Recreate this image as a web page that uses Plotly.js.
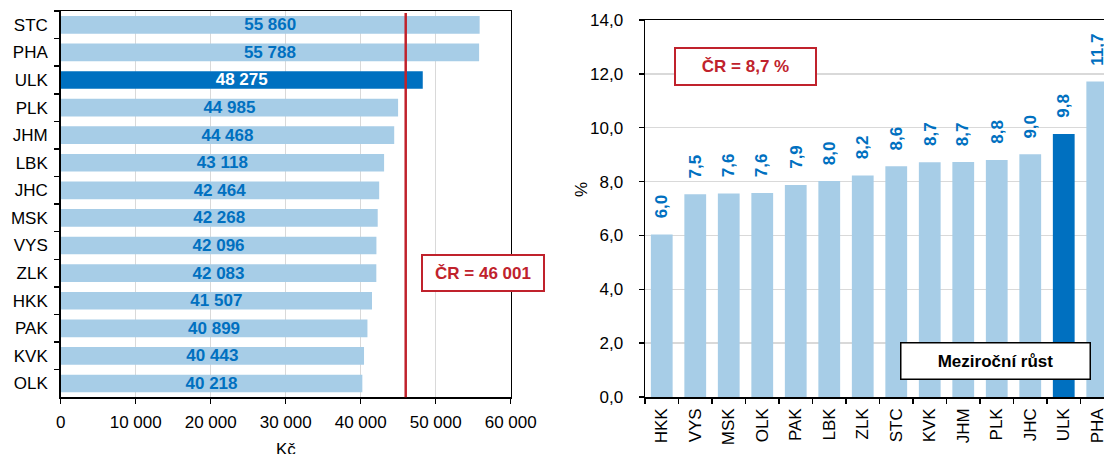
<!DOCTYPE html>
<html>
<head>
<meta charset="utf-8">
<script src="https://cdn.plot.ly/plotly-3.0.1.min.js"></script>
<style>
html,body{margin:0;padding:0;background:#fff;overflow:hidden;}
#chart{width:1104px;height:454px;}
</style>
</head>
<body>
<div id="chart"></div>
<script>
// ---- data ----
const wageRegions = ['STC','PHA','ULK','PLK','JHM','LBK','JHC','MSK','VYS','ZLK','HKK','PAK','KVK','OLK'];
const wages = [55860,55788,48275,44985,44468,43118,42464,42268,42096,42083,41507,40899,40443,40218];
const wageTicks = [0,10000,20000,30000,40000,50000,60000];
const wageAxisTitle = 'Kč';
const CR_WAGE = 46001;
const CR_WAGE_LABEL = 'ČR = 46 001';

const growthRegions = ['HKK','VYS','MSK','OLK','PAK','LBK','ZLK','STC','KVK','JHM','PLK','JHC','ULK','PHA'];
const growth = [6.03,7.53,7.56,7.58,7.87,8.02,8.23,8.57,8.72,8.73,8.80,9.01,9.77,11.72];
const growthTicks = [0,2,4,6,8,10,12,14];
const growthAxisTitle = '%';
const CR_GROWTH_LABEL = 'ČR = 8,7 %';
const growthBoxLabel = 'Meziroční růst';
const highlight = 'ULK';

// ---- styling ----
const W = 1104, H = 454;
const FONT = 'Liberation Sans, Arial, sans-serif';
const LIGHT = '#A7CDE7';
const DARK = '#0070C0';
const RED = '#C0222C';
const GRID = '#D9D9D9';
const fs = 17;
const px = x => x / W;
const py = y => (H - y) / H;
const thou = v => String(v).replace(/\B(?=(\d{3})+(?!\d))/g, ' ');
const dec1 = v => v.toFixed(1).replace('.', ',');

const wageTrace = {
  type: 'bar', orientation: 'h',
  x: wages, y: wageRegions, xaxis: 'x', yaxis: 'y',
  marker: {color: wageRegions.map(r => r === highlight ? DARK : LIGHT), line: {width: 0}},
  width: 0.64,
  text: wages.map(thou),
  textposition: 'inside', insidetextanchor: 'middle', textangle: 0,
  constraintext: 'none',
  insidetextfont: {family: FONT, size: fs, weight: 'bold', color: wageRegions.map(r => r === highlight ? '#FFFFFF' : DARK)},
  hoverinfo: 'none'
};

const growthTrace = {
  type: 'bar',
  x: growthRegions, y: growth, xaxis: 'x2', yaxis: 'y2',
  marker: {color: growthRegions.map(r => r === highlight ? DARK : LIGHT), line: {width: 0}},
  width: 0.65,
  hoverinfo: 'none'
};

const x2Left = 645, catW = 33.5;
const x2RangeEnd = -0.5 + (W - x2Left) / catW;

const annotations = [
  // value labels on growth bars
  ...growthRegions.map((r, i) => ({
    xref: 'x2', yref: 'y2', x: r, y: growth[i],
    text: dec1(growth[i]), showarrow: false, textangle: -90,
    xanchor: 'center', yanchor: 'bottom', yshift: 15, borderpad: 0,
    font: {family: FONT, size: fs, weight: 'bold', color: DARK}
  })),
  {
    xref: 'paper', yref: 'paper', x: px(483), y: py(273),
    text: '<b>' + CR_WAGE_LABEL + '</b>', showarrow: false,
    xanchor: 'center', yanchor: 'middle',
    width: 118, height: 32, borderpad: 1, borderwidth: 2,
    bordercolor: RED, bgcolor: '#FFFFFF',
    font: {family: FONT, size: fs, color: RED}
  },
  {
    xref: 'paper', yref: 'paper', x: px(745.5), y: py(66.5),
    text: '<b>' + CR_GROWTH_LABEL + '</b>', showarrow: false,
    xanchor: 'center', yanchor: 'middle',
    width: 137, height: 33, borderpad: 1, borderwidth: 2,
    bordercolor: RED, bgcolor: '#FFFFFF',
    font: {family: FONT, size: fs, color: RED}
  },
  {
    xref: 'paper', yref: 'paper', x: px(995.5), y: py(361),
    text: '<b>' + growthBoxLabel + '</b>', showarrow: false,
    xanchor: 'center', yanchor: 'middle',
    width: 186, height: 33, borderpad: 1, borderwidth: 1.5,
    bordercolor: '#000000', bgcolor: '#FFFFFF',
    font: {family: FONT, size: fs, color: '#000000'}
  },
  {
    xref: 'paper', yref: 'paper', x: px(286), y: py(449),
    text: wageAxisTitle, showarrow: false, xanchor: 'center', yanchor: 'middle',
    font: {family: FONT, size: fs, color: '#000000'}
  },
  {
    xref: 'paper', yref: 'paper', x: px(581), y: py(190),
    text: growthAxisTitle, showarrow: false, textangle: -90,
    xanchor: 'center', yanchor: 'middle',
    font: {family: FONT, size: fs, color: '#000000'}
  }
];

const layout = {
  width: W, height: H,
  margin: {l: 0, r: 0, t: 0, b: 0, pad: 0},
  paper_bgcolor: '#FFFFFF', plot_bgcolor: '#FFFFFF',
  showlegend: false,
  font: {family: FONT, size: fs, color: '#000000'},
  xaxis: {
    domain: [px(60.7), px(510.7)], range: [0, 60000], anchor: 'y',
    tickvals: wageTicks, ticktext: wageTicks.map(thou),
    showgrid: true, gridcolor: GRID, gridwidth: 1.5,
    showline: true, linecolor: '#000000', linewidth: 1.5, mirror: true,
    ticks: 'outside', ticklen: 5, tickwidth: 1.5, tickcolor: '#000000',
    ticklabelstandoff: 4, zeroline: false, fixedrange: true,
    tickfont: {family: FONT, size: fs, color: '#000000'}
  },
  yaxis: {
    domain: [py(397.3), py(11)], anchor: 'x',
    type: 'category', autorange: 'reversed',
    showgrid: false, showline: true, linecolor: '#000000', linewidth: 1.5, mirror: true,
    ticks: 'outside', ticklen: 5, tickwidth: 1.5, tickcolor: '#000000', tickson: 'boundaries',
    ticklabelstandoff: 8, zeroline: false, fixedrange: true,
    tickfont: {family: FONT, size: fs, color: '#000000'}
  },
  xaxis2: {
    domain: [px(x2Left), 1], anchor: 'y2', type: 'category',
    range: [-0.5, x2RangeEnd],
    showgrid: false, showline: true, linecolor: '#000000', linewidth: 1.5, mirror: true,
    ticks: 'outside', ticklen: 5, tickwidth: 1.5, tickcolor: '#000000', tickson: 'boundaries',
    tickangle: -90, ticklabelstandoff: 3, zeroline: false, fixedrange: true,
    tickfont: {family: FONT, size: fs, color: '#000000'}
  },
  yaxis2: {
    domain: [py(397), py(20)], anchor: 'x2', range: [0, 14],
    tickvals: growthTicks, ticktext: growthTicks.map(dec1),
    showgrid: true, gridcolor: GRID, gridwidth: 1.5,
    showline: true, linecolor: '#000000', linewidth: 1.5, mirror: false,
    ticks: 'outside', ticklen: 5, tickwidth: 1.5, tickcolor: '#000000',
    ticklabelstandoff: 12, zeroline: false, fixedrange: true,
    tickfont: {family: FONT, size: fs, color: '#000000'}
  },
  shapes: [{
    type: 'line', xref: 'x', yref: 'y domain',
    x0: CR_WAGE, x1: CR_WAGE, y0: 0, y1: 0.995,
    line: {color: RED, width: 2.5}, layer: 'above'
  }],
  annotations: annotations
};

Plotly.newPlot('chart', [wageTrace, growthTrace], layout, {staticPlot: true, displayModeBar: false});
</script>
</body>
</html>
